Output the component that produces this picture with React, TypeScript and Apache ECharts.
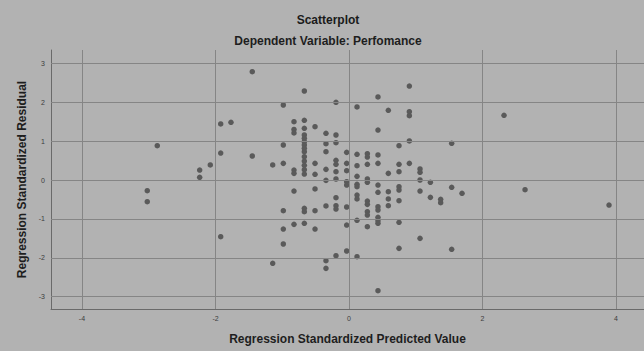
import { useEffect, useRef } from "react";
import * as echarts from "echarts";

// Regression standardized predicted values (x) and residuals (y)
const predicted = [
  -2.872, -3.022, -3.022, -2.237, -2.237, -2.078, -1.922, -1.922, -1.922, -1.768, -1.449, -1.449,
  2.322, 1.538, 1.538, 1.538, 1.693, 2.637, 3.895,
  -1.143, -1.143,
  -0.984, -0.984, -0.984, -0.984, -0.984, -0.984,
  -0.824, -0.824, -0.824, -0.824, -0.824, -0.824, -0.824,
  -0.669, -0.669, -0.669, -0.669, -0.669, -0.669, -0.669, -0.669, -0.669, -0.669, -0.669, -0.669, -0.669, -0.669, -0.669, -0.669, -0.669,
  -0.509, -0.509, -0.509, -0.509, -0.509, -0.509,
  -0.345, -0.345, -0.345, -0.345, -0.345, -0.345, -0.345, -0.345,
  -0.195, -0.195, -0.195, -0.195, -0.195, -0.195, -0.195, -0.195, -0.195, -0.195, -0.195,
  -0.035, -0.035, -0.035, -0.035, -0.035, -0.035, -0.035, -0.035,
  0.12, 0.12, 0.12, 0.12, 0.12, 0.12, 0.12, 0.12, 0.12, 0.12,
  0.275, 0.275, 0.275, 0.275, 0.275, 0.275, 0.275, 0.275, 0.275, 0.275,
  0.434, 0.434, 0.434, 0.434, 0.434, 0.434, 0.434, 0.434, 0.434, 0.434, 0.434, 0.434,
  0.589, 0.589, 0.589, 0.589, 0.589,
  0.749, 0.749, 0.749, 0.749, 0.749, 0.749, 0.749, 0.749,
  0.904, 0.904, 0.904, 0.904, 0.904,
  1.064, 1.064, 1.064, 1.064, 1.064,
  1.219, 1.219,
  1.373, 1.373,
];

const residual = [
  0.882, -0.275, -0.558, 0.257, 0.069, 0.386, 1.44, 0.694, -1.458, 1.483, 2.785, 0.617,
  1.663, 0.943, -0.188, -1.781, -0.342, -0.249, -0.643,
  0.386, -2.142,
  1.928, 0.9, 0.428, -0.788, -1.26, -1.645,
  1.5, 1.3, 1.21, 0.257, 0.171, -0.283, -1.14,
  2.288, 1.534, 1.328, 1.157, 1.071, 0.985, 0.9, 0.814, 0.728, 0.6, 0.488, 0.377, 0.266, 0.154, -0.728, -0.814, -1.114,
  1.371, 0.428, 0.146, -0.231, -0.788, -1.26,
  1.2, 0.934, 0.728, 0.274, -0.009, -0.668, -2.074, -2.271,
  1.997, 1.157, 0.96, 0.506, 0.403, 0.214, 0.026, -0.454, -0.66, -0.746, -1.945,
  0.711, 0.428, 0.24, -0.043, -0.129, -0.694, -1.157, -1.825,
  1.877, 0.66, 0.368, 0.094, -0.111, -0.171, -0.386, -0.488, -1.037, -1.971,
  0.677, 0.591, 0.403, 0.026, -0.06, -0.54, -0.626, -0.814, -0.9, -1.2,
  2.134, 1.285, 0.643, 0.428, -0.129, -0.317, -0.686, -0.771, -0.96, -1.045, -1.114, -2.845,
  1.791, 0.171, -0.3, -0.488, -0.66,
  0.883, 0.403, 0.214, -0.171, -0.257, -0.531, -1.088, -1.757,
  2.416, 1.757, 1.654, 1.003, 0.428,
  0.283, 0.197, 0.0, -0.283, -1.5,
  -0.06, -0.446,
  -0.497, -0.583,
];

const xTicks = [-4, -2, 0, 2, 4];
const yTicks = [-3, -2, -1, 0, 1, 2, 3];

const titleText = "Scatterplot";
const subtitleText = "Dependent Variable: Perfomance";
const xName = "Regression Standardized Predicted Value";
const yName = "Regression Standardized Residual";

const FONT = "Liberation Sans, Arial, sans-serif";

export default function App() {
  const ref = useRef<HTMLDivElement>(null);

  useEffect(() => {
    if (!ref.current) return;
    const chart = echarts.init(ref.current, null, { renderer: "svg" });
    const points = predicted.map((x, i) => [x, residual[i]]);
    const gridLines = [
      ...xTicks.map((v) => ({ xAxis: v })),
      ...yTicks.map((v) => ({ yAxis: v })),
    ];
    const fmt = (list: number[]) => (v: number) => {
      const r = Math.round(v * 1000) / 1000;
      return list.includes(r) ? String(r) : "";
    };
    chart.setOption({
      animation: false,
      backgroundColor: "#b2b2b2",
      textStyle: { fontFamily: FONT },
      graphic: [
        {
          type: "text",
          x: 328,
          y: 20,
          style: {
            text: titleText,
            font: `bold 12px ${FONT}`,
            fill: "#1a1a1a",
            textAlign: "center",
            textVerticalAlign: "middle",
          },
        },
        {
          type: "text",
          x: 328,
          y: 41,
          style: {
            text: subtitleText,
            font: `bold 12px ${FONT}`,
            fill: "#1e1e1e",
            textAlign: "center",
            textVerticalAlign: "middle",
          },
        },
      ],
      grid: { left: 51, top: 50, right: 0, bottom: 42 },
      xAxis: {
        type: "value",
        min: -4.464,
        max: 4.419,
        splitNumber: 5,
        splitLine: { show: false },
        axisTick: { show: false },
        axisLine: { show: true, onZero: false, lineStyle: { color: "#6a6a6a", width: 1 } },
        axisLabel: {
          fontSize: 7,
          color: "#3c3c3c",
          margin: 6,
          formatter: fmt(xTicks),
          showMinLabel: false,
          showMaxLabel: false,
        },
        name: xName,
        nameLocation: "middle",
        nameGap: 24,
        nameTextStyle: { fontSize: 12, fontWeight: "bold", color: "#1e1e1e", fontFamily: FONT },
      },
      yAxis: {
        type: "value",
        min: -3.316,
        max: 3.342,
        splitNumber: 7,
        splitLine: { show: false },
        axisTick: { show: false },
        axisLine: { show: true, onZero: false, lineStyle: { color: "#6a6a6a", width: 1 } },
        axisLabel: {
          fontSize: 7,
          color: "#3c3c3c",
          margin: 6,
          formatter: fmt(yTicks),
          showMinLabel: false,
          showMaxLabel: false,
        },
        name: yName,
        nameLocation: "middle",
        nameGap: 22,
        nameTextStyle: { fontSize: 12, fontWeight: "bold", color: "#1e1e1e", fontFamily: FONT },
      },
      series: [
        {
          type: "scatter",
          data: [],
          silent: true,
          z: 1,
          markLine: {
            silent: true,
            symbol: ["none", "none"],
            label: { show: false },
            lineStyle: { color: "#858585", width: 1, type: "solid" },
            data: gridLines,
          },
        },
        {
          type: "scatter",
          data: points,
          z: 3,
          symbol: "circle",
          symbolSize: 5.5,
          itemStyle: { color: "#5a5a5a", opacity: 1 },
        },
      ],
    });
    return () => chart.dispose();
  }, []);

  return (
    <div
      ref={ref}
      style={{ position: "fixed", left: 0, top: 0, width: 644, height: 351 }}
    />
  );
}
